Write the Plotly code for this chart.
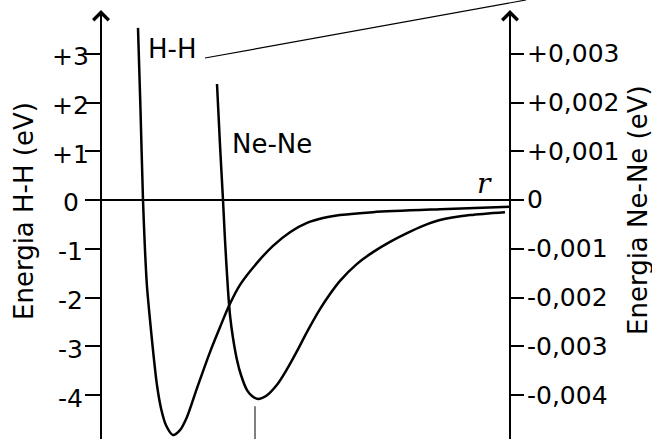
import plotly.graph_objects as go

# Interatomic potentials: r in arbitrary units, energy in eV
r_hh = [0.37, 0.395, 0.42, 0.44, 0.46, 0.49, 0.52, 0.56, 0.60, 0.65,
        0.72, 0.79, 0.86, 0.96, 1.09, 1.19, 1.28, 1.39, 1.56, 1.72,
        1.89, 2.06, 2.22, 2.39, 2.72, 3.39, 4.09]
e_hh = [3.53, 1.85, 0.0, -1.03, -1.78, -2.46, -3.08, -3.80, -4.27, -4.62,
        -4.82, -4.72, -4.45, -3.86, -3.12, -2.61, -2.17, -1.74, -1.29, -0.94,
        -0.66, -0.47, -0.37, -0.31, -0.25, -0.19, -0.14]

r_nene = [1.16, 1.19, 1.22, 1.24, 1.27, 1.29, 1.32, 1.36, 1.40, 1.46,
          1.51, 1.57, 1.65, 1.76, 1.86, 1.96, 2.07, 2.19, 2.29, 2.39,
          2.56, 2.72, 2.89, 3.06, 3.22, 3.39, 3.69, 4.04]
e_nene = [0.00238, 0.00113, 0.0, -0.00082, -0.00185, -0.00236, -0.00283, -0.00328, -0.00359, -0.00390,
          -0.00402, -0.00408, -0.00402, -0.00379, -0.00347, -0.00310, -0.00267, -0.00224, -0.00193, -0.00166,
          -0.00131, -0.00107, -0.00086, -0.00068, -0.00053, -0.00041, -0.00031, -0.00025]

# equilibrium marker for Ne-Ne
r_marker = [1.54, 1.54]
e_marker = [-4.23, -5.2]

left_ticks = [3, 2, 1, 0, -1, -2, -3, -4]
left_labels = ["+3", "+2", "+1", "0", "-1", "-2", "-3", "-4"]
right_ticks = [0.003, 0.002, 0.001, 0.0, -0.001, -0.002, -0.003, -0.004]
right_labels = ["+0,003", "+0,002", "+0,001", "0", "-0,001", "-0,002", "-0,003", "-0,004"]

W, H = 652, 439
FONT = "DejaVu Sans"

# pixel layout helpers
px_per_ev = 48.75
zero_px = 200.0
top_px = 20.0
y_range = [(zero_px - H) / px_per_ev, (zero_px - top_px) / px_per_ev]
y_dom = [0.0, (H - top_px) / H]
left_x = 101.0
right_x = 510.0
x_dom = [86.0 / W, 523.0 / W]
x_range = [(86.0 - left_x) / 100.0, (523.0 - left_x) / 100.0]

fig = go.Figure()

fig.add_trace(go.Scatter(
    x=r_hh, y=e_hh, mode="lines",
    line=dict(color="black", width=2.5, shape="spline", smoothing=0.8),
    xaxis="x", yaxis="y", hoverinfo="skip"))

fig.add_trace(go.Scatter(
    x=r_nene, y=e_nene, mode="lines",
    line=dict(color="black", width=2.5, shape="spline", smoothing=0.8),
    xaxis="x", yaxis="y2", hoverinfo="skip"))

fig.add_trace(go.Scatter(
    x=r_marker, y=e_marker, mode="lines",
    line=dict(color="#808080", width=2),
    xaxis="x", yaxis="y", hoverinfo="skip"))

annotations = []
for v, t in zip(left_ticks, left_labels):
    annotations.append(dict(x=70.5 / W, xref="paper", y=v, yref="y", text=t,
                            showarrow=False, xanchor="center", yanchor="middle",
                            yshift=-3, font=dict(family=FONT, size=25, color="black")))
for v, t in zip(right_ticks, right_labels):
    annotations.append(dict(x=525.0 / W, xref="paper", y=v, yref="y2", text=t,
                            showarrow=False, xanchor="left", yanchor="middle",
                            font=dict(family=FONT, size=25, color="black")))

annotations += [
    dict(x=0.705, y=3.10, xref="x", yref="y", text="H-H", showarrow=False,
         font=dict(family=FONT, size=26, color="black")),
    dict(x=1.71, y=1.15, xref="x", yref="y", text="Ne-Ne", showarrow=False,
         font=dict(family=FONT, size=26, color="black")),
    dict(x=3.835, y=0.34, xref="x", yref="y", text="<i>r</i>", showarrow=False,
         font=dict(family="DejaVu Serif", size=28, color="black")),
    dict(x=24.0 / W, y=(H - 211.0) / H, xref="paper", yref="paper",
         xanchor="center", yanchor="middle",
         text="Energia H-H (eV)", textangle=-90, showarrow=False,
         font=dict(family=FONT, size=26, color="black")),
    dict(x=638.0 / W, y=(H - 210.0) / H, xref="paper", yref="paper",
         xanchor="center", yanchor="middle",
         text="Energia Ne-Ne (eV)", textangle=-90, showarrow=False,
         font=dict(family=FONT, size=26, color="black")),
]

# arrowheads on top of both energy axes
for xp in (left_x, right_x):
    annotations.append(dict(x=xp / W, y=(H - 10.0) / H, xref="paper", yref="paper",
                            ax=0, ay=25, text="", showarrow=True, arrowhead=4,
                            arrowwidth=2, arrowsize=1.5, arrowcolor="black"))

fig.update_layout(
    width=W, height=H,
    margin=dict(l=0, r=0, t=0, b=0),
    paper_bgcolor="white", plot_bgcolor="white",
    showlegend=False,
    xaxis=dict(domain=x_dom, range=x_range, visible=False, fixedrange=True),
    yaxis=dict(domain=y_dom, range=y_range, anchor="free", position=left_x / W,
               side="left", showline=True, linecolor="black", linewidth=2,
               ticks="outside", ticklen=15, tickwidth=2, tickcolor="black",
               tickvals=left_ticks, showticklabels=False, showgrid=False,
               zeroline=True, zerolinecolor="black", zerolinewidth=2),
    yaxis2=dict(domain=y_dom, range=[v / 1000.0 for v in y_range], overlaying="y",
                anchor="free", position=right_x / W, side="right",
                showline=True, linecolor="black", linewidth=2,
                ticks="outside", ticklen=13, tickwidth=2, tickcolor="black",
                tickvals=right_ticks, showticklabels=False, showgrid=False,
                zeroline=False),
    annotations=annotations,
    shapes=[dict(type="line", xref="paper", yref="paper",
                 x0=205.0 / W, y0=(H - 58.0) / H, x1=526.0 / W, y1=1.0,
                 line=dict(color="black", width=1.2))],
)

fig.write_html("out.html")
